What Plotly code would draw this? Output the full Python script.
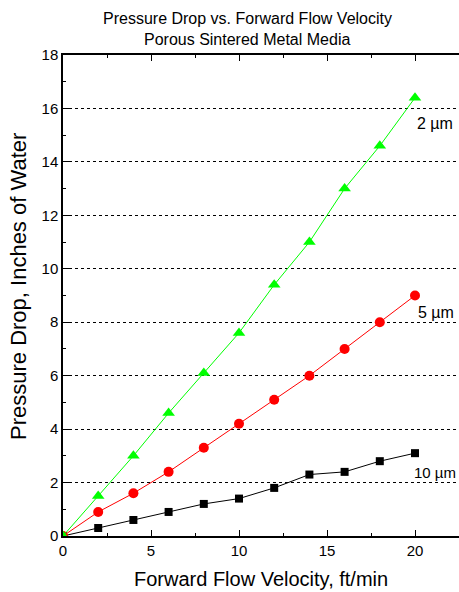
import plotly.graph_objects as go

velocity = [0, 2, 4, 6, 8, 10, 12, 14, 16, 18, 20]
dp_2um = [0, 1.5, 3.0, 4.6, 6.1, 7.6, 9.4, 11.0, 13.0, 14.6, 16.4]
dp_5um = [0, 0.9, 1.6, 2.4, 3.3, 4.2, 5.1, 6.0, 7.0, 8.0, 9.0]
dp_10um = [0, 0.3, 0.6, 0.9, 1.2, 1.4, 1.8, 2.3, 2.4, 2.8, 3.1]

labels = ["2 µm", "5 µm", "10 µm"]
label_x = [20.0, 20.05, 19.85]
label_y = [15.45, 8.38, 2.39]
label_size = [16, 16, 15]

title_lines = ["Pressure Drop vs. Forward Flow Velocity", "Porous Sintered Metal Media"]
x_title = "Forward Flow Velocity, ft/min"
y_title = "Pressure Drop, Inches of Water"

font = "Liberation Sans, Arial, sans-serif"
W, H = 459, 592
ML, MR, MT, MB = 63, 0, 55, 56
PW, PH = W - ML - MR, H - MT - MB


def px_x(p):
    return (p - ML) / PW


def px_y(p):
    return (H - MB - p) / PH


fig = go.Figure()
fig.add_trace(go.Scatter(x=velocity, y=dp_10um, mode="lines+markers", name=labels[2],
                         line=dict(color="black", width=1),
                         marker=dict(symbol="square", size=8, color="black")))
fig.add_trace(go.Scatter(x=velocity, y=dp_5um, mode="lines+markers", name=labels[1],
                         line=dict(color="#ff0000", width=1),
                         marker=dict(symbol="circle", size=10, color="#ff0000")))
fig.add_trace(go.Scatter(x=velocity, y=dp_2um, mode="lines+markers", name=labels[0],
                         line=dict(color="#00ff00", width=1),
                         marker=dict(symbol="triangle-up", size=11, color="#00ff00")))

for t, lx, ly, ls in zip(labels, label_x, label_y, label_size):
    fig.add_annotation(x=lx, y=ly, text=t, showarrow=False, xanchor="left", yanchor="middle",
                       font=dict(family=font, size=ls, color="black"))

for t, py in zip(title_lines, [18.5, 39.5]):
    fig.add_annotation(xref="paper", yref="paper", x=px_x(247), y=px_y(py), text=t,
                       showarrow=False, xanchor="center", yanchor="middle",
                       font=dict(family=font, size=16, color="black"))

fig.add_annotation(xref="paper", yref="paper", x=px_x(261), y=px_y(579), text=x_title,
                   showarrow=False, xanchor="center", yanchor="middle",
                   font=dict(family=font, size=20, color="black"))
fig.add_annotation(xref="paper", yref="paper", x=px_x(18), y=px_y(287), text=y_title,
                   showarrow=False, xanchor="center", yanchor="middle", textangle=-90,
                   font=dict(family=font, size=22, color="black"))

fig.update_layout(
    width=W, height=H,
    margin=dict(l=ML, r=MR, t=MT, b=MB),
    paper_bgcolor="white", plot_bgcolor="white",
    showlegend=False,
    font=dict(family=font, color="black"),
)
fig.update_xaxes(range=[0, 22.5], dtick=5, tick0=0, showgrid=False, zeroline=False,
                 showline=True, linecolor="black", linewidth=1.5, mirror="ticks",
                 ticks="inside", ticklen=6, tickcolor="black",
                 minor=dict(ticks="inside", ticklen=3, dtick=2.5, tickcolor="black"),
                 tickfont=dict(family=font, size=15, color="black"))
fig.update_yaxes(range=[0, 18], dtick=2, tick0=0, showgrid=True, gridcolor="black",
                 griddash="dot", gridwidth=1, zeroline=False,
                 showline=True, linecolor="black", linewidth=1.5,
                 ticks="inside", ticklen=6, tickcolor="black",
                 minor=dict(ticks="inside", ticklen=3, dtick=1, tickcolor="black"),
                 tickfont=dict(family=font, size=15, color="black"))

fig.write_html("out.html", config={"displayModeBar": False},
               post_script="document.body.style.margin='0';document.body.style.overflow='hidden';")
